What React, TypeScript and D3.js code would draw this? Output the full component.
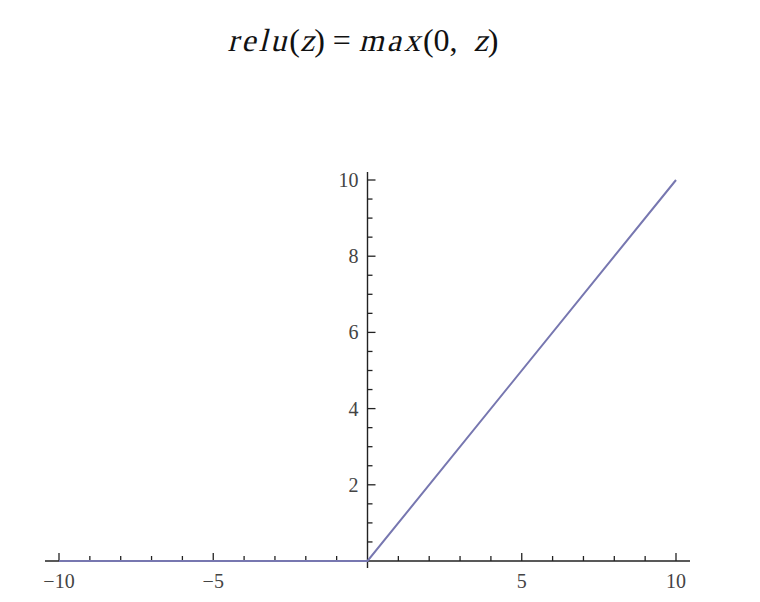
import React, { useEffect, useRef } from "react";
import * as d3 from "d3";

// relu(z) = max(0, z), sampled at the break points
const zValues = [-10, 0, 10];
const reluValues = [0, 0, 10];

const xMajorTicks = [-10, -5, 5, 10];
const xMinorTicks = [-9, -8, -7, -6, -4, -3, -2, -1, 1, 2, 3, 4, 6, 7, 8, 9];
const yMajorTicks = [2, 4, 6, 8, 10];
const yMinorTicks = [0.5, 1, 1.5, 2.5, 3, 3.5, 4.5, 5, 5.5, 6.5, 7, 7.5, 8.5, 9, 9.5];

// title pieces: [text, italic?]
const titleParts = [
  ["relu", true],
  ["(", false],
  ["z", true],
  [") = ", false],
  ["max", true],
  ["(0,  ", false],
  ["z", true],
  [")", false],
];

const W = 760;
const H = 602;

const App = () => {
  const ref = useRef(null);

  useEffect(() => {
    const svg = d3.select(ref.current);
    svg.selectAll("*").remove();

    const x = d3.scaleLinear().domain([-10, 10]).range([59, 676]);
    const y = d3.scaleLinear().domain([0, 10]).range([561, 180]);

    const axisColor = "#222";
    const labelColor = "#444";
    const font = "Liberation Serif";

    // title: laid out piece by piece, italics done with a skew
    const tg = svg.append("g");
    const nodes = titleParts.map(([s, it]) => {
      const t = tg
        .append("text")
        .attr("font-family", font)
        .attr("font-size", 32)
        .attr("fill", "#111")
        .attr("letter-spacing", it && s.length > 1 ? 3 : 0)
        .style("white-space", "pre")
        .attr("xml:space", "preserve")
        .text(s);
      return { t, it, w: t.node().getComputedTextLength() };
    });
    const total = d3.sum(nodes, (n) => n.w);
    let cx = 363 - total / 2;
    nodes.forEach((n) => {
      n.t.attr(
        "transform",
        `translate(${cx},51)` + (n.it ? " skewX(-14)" : "")
      );
      cx += n.w;
    });

    // x axis line
    svg
      .append("line")
      .attr("x1", 45)
      .attr("x2", 690)
      .attr("y1", y(0))
      .attr("y2", y(0))
      .attr("stroke", axisColor)
      .attr("stroke-width", 1.4);

    // y axis line
    svg
      .append("line")
      .attr("x1", x(0))
      .attr("x2", x(0))
      .attr("y1", 172)
      .attr("y2", y(0) + 7)
      .attr("stroke", axisColor)
      .attr("stroke-width", 1.4);

    // x ticks (pointing up)
    svg
      .selectAll(".xmaj")
      .data(xMajorTicks)
      .enter()
      .append("line")
      .attr("x1", (d) => x(d))
      .attr("x2", (d) => x(d))
      .attr("y1", y(0))
      .attr("y2", y(0) - 8)
      .attr("stroke", axisColor)
      .attr("stroke-width", 1.3);
    svg
      .selectAll(".xmin")
      .data(xMinorTicks)
      .enter()
      .append("line")
      .attr("x1", (d) => x(d))
      .attr("x2", (d) => x(d))
      .attr("y1", y(0))
      .attr("y2", y(0) - 5)
      .attr("stroke", axisColor)
      .attr("stroke-width", 1.3);

    // y ticks (pointing right)
    svg
      .selectAll(".ymaj")
      .data(yMajorTicks)
      .enter()
      .append("line")
      .attr("x1", x(0))
      .attr("x2", x(0) + 8)
      .attr("y1", (d) => y(d))
      .attr("y2", (d) => y(d))
      .attr("stroke", axisColor)
      .attr("stroke-width", 1.3);
    svg
      .selectAll(".ymin")
      .data(yMinorTicks)
      .enter()
      .append("line")
      .attr("x1", x(0))
      .attr("x2", x(0) + 5)
      .attr("y1", (d) => y(d))
      .attr("y2", (d) => y(d))
      .attr("stroke", axisColor)
      .attr("stroke-width", 1.3);

    // tick labels
    svg
      .selectAll(".xlab")
      .data(xMajorTicks)
      .enter()
      .append("text")
      .attr("x", (d) => x(d))
      .attr("y", 588)
      .attr("text-anchor", "middle")
      .attr("font-family", font)
      .attr("font-size", 20)
      .attr("fill", labelColor)
      .text((d) => (d < 0 ? "\u2212" + Math.abs(d) : String(d)));

    svg
      .selectAll(".ylab")
      .data(yMajorTicks)
      .enter()
      .append("text")
      .attr("x", x(0) - 9)
      .attr("y", (d) => y(d))
      .attr("dy", "0.35em")
      .attr("text-anchor", "end")
      .attr("font-family", font)
      .attr("font-size", 20)
      .attr("fill", labelColor)
      .text((d) => String(d));

    // relu curve
    const line = d3
      .line()
      .x((d) => x(d[0]))
      .y((d) => y(d[1]));
    svg
      .append("path")
      .datum(zValues.map((z, i) => [z, reluValues[i]]))
      .attr("d", line)
      .attr("fill", "none")
      .attr("stroke", "#7777b0")
      .attr("stroke-width", 2);
  }, []);

  return (
    <svg
      ref={ref}
      width={W}
      height={H}
      style={{ position: "absolute", left: 0, top: 0, background: "white" }}
    ></svg>
  );
};

export default App;
